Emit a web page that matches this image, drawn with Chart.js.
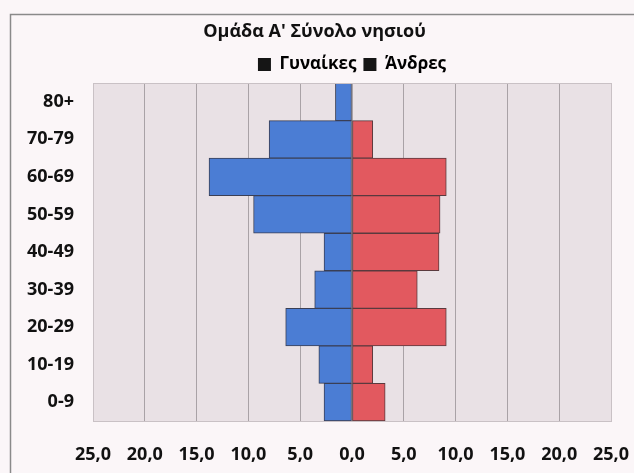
<!DOCTYPE html>
<html>
<head>
<meta charset="utf-8">
<script src="https://cdn.jsdelivr.net/npm/chart.js@4"></script>
<style>
  html, body { margin: 0; padding: 0; background: #fbf6f8; }
  #wrap { width: 634px; height: 473px; }
</style>
</head>
<body>
<div id="wrap"><canvas id="pyramid" width="634" height="473"></canvas></div>
<script>
const ageGroups = ['80+', '70-79', '60-69', '50-59', '40-49', '30-39', '20-29', '10-19', '0-9'];
const women = [1.6, 8.0, 13.8, 9.5, 2.7, 3.6, 6.4, 3.2, 2.7];
const men = [0, 2.0, 9.1, 8.5, 8.4, 6.3, 9.1, 2.0, 3.2];
const seriesNames = ['Γυναίκες', 'Άνδρες'];

const FONT = "'Open Sans', 'DejaVu Sans', sans-serif";
const PAD_LEFT = 18; // nudges the title a bit to the right

// background of plot area + outer frame
const backdrop = {
  id: 'backdrop',
  beforeDraw(chart) {
    const { ctx, chartArea: a } = chart;
    ctx.save();
    ctx.fillStyle = '#fbf6f8';
    ctx.fillRect(0, 0, chart.width, chart.height);
    ctx.strokeStyle = '#8a8a8a';
    ctx.lineWidth = 1.5;
    ctx.strokeRect(10.5, 14.5, chart.width + 20, chart.height + 20);
    ctx.fillStyle = '#e9e1e5';
    ctx.fillRect(a.left, a.top, a.right - a.left, a.bottom - a.top);
    ctx.restore();
  },
  afterDatasetsDraw(chart) {
    const { ctx, chartArea: a } = chart;
    ctx.save();
    ctx.strokeStyle = '#c9c1c5';
    ctx.lineWidth = 1;
    ctx.strokeRect(a.left + 0.5, a.top + 0.5, a.right - a.left, a.bottom - a.top);
    ctx.restore();
  }
};

const ctx = document.getElementById('pyramid');
new Chart(ctx, {
  type: 'bar',
  data: {
    labels: ageGroups,
    datasets: [
      {
        label: seriesNames[0],
        data: women.map(v => -v),
        backgroundColor: '#4b7dd4',
        borderColor: '#3a3f55',
        borderWidth: 1,
        borderSkipped: false,
        barPercentage: 1,
        categoryPercentage: 1,
      },
      {
        label: seriesNames[1],
        data: men,
        backgroundColor: '#e2595f',
        borderColor: '#5a3a3e',
        borderWidth: 1,
        borderSkipped: false,
        barPercentage: 1,
        categoryPercentage: 1,
      },
    ],
  },
  options: {
    indexAxis: 'y',
    responsive: false,
    animation: false,
    layout: { padding: { left: PAD_LEFT, right: 23, top: 0, bottom: 0 } },
    plugins: {
      title: {
        display: true,
        text: 'Ομάδα Α\' Σύνολο νησιού',
        color: '#111',
        font: { family: FONT, size: 18, weight: 'bold' },
        padding: { top: 21.2, bottom: 6.2 },
      },
      legend: {
        display: true,
        fullSize: false,
        labels: {
          color: '#111',
          font: { family: FONT, size: 17, weight: 'bold' },
          boxWidth: 13,
          boxHeight: 13,
          padding: 7,
          generateLabels(chart) {
            return chart.data.datasets.map((ds, i) => ({
              text: ds.label,
              fillStyle: '#151515',
              strokeStyle: '#151515',
              lineWidth: 0,
              datasetIndex: i,
            }));
          },
        },
      },
      tooltip: { enabled: false },
    },
    scales: {
      x: {
        stacked: true,
        min: -25,
        max: 25,
        ticks: {
          stepSize: 5,
          color: '#111',
          font: { family: FONT, size: 18, weight: 'bold' },
          padding: 23,
          callback: v => Math.abs(v).toFixed(1).replace('.', ','),
        },
        grid: { color: '#a9a2a6', lineWidth: 1, drawTicks: false },
        border: { display: false },
        afterFit(scale) {
          scale.height = 52;
          scale.paddingLeft = 0;
          scale.paddingRight = 0;
        },
      },
      y: {
        stacked: true,
        ticks: {
          color: '#111',
          font: { family: FONT, size: 18, weight: 'bold' },
          padding: 19,
        },
        grid: { display: false, drawTicks: false },
        border: { display: false },
        afterFit(scale) { scale.width = 93 - PAD_LEFT; },
      },
    },
  },
  plugins: [backdrop],
});
</script>
</body>
</html>
